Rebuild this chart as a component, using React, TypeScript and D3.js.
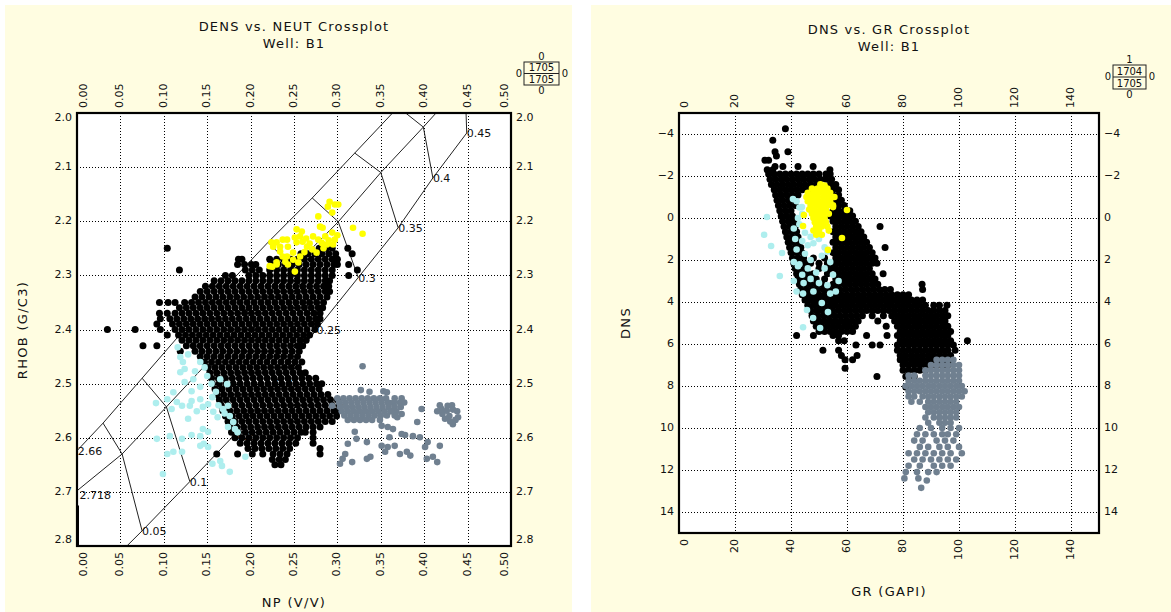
import React from 'react';
import * as d3 from 'd3';

type Pt = [number, number];
type Row = [number, number[]];

// ================= LEFT: DENS vs. NEUT =================
const leftTitle = 'DENS vs. NEUT Crossplot';
const leftSubtitle = 'Well: B1';
const leftXLabel = 'NP (V/V)';
const leftYLabel = 'RHOB (G/C3)';
const leftXTicks = [0, 0.05, 0.1, 0.15, 0.2, 0.25, 0.3, 0.35, 0.4, 0.45, 0.5];
const leftYTicks = [2.0, 2.1, 2.2, 2.3, 2.4, 2.5, 2.6, 2.7, 2.8];
const leftLegend = ['0', '1705', '1705', '0', '0', '0']; // top, cell1, cell2, bottom, left, right

// chart-book overlay (NP, RHOB)
const porosityLabels = ['0.05', '0.1', '0.15', '0.2', '0.25', '0.3', '0.35', '0.4', '0.45'];
const sandStart: Pt = [0, 2.624];
const limeStart: Pt = [0, 2.698];
const doloStart: Pt = [0.043, 2.823];
const sandNodes: Pt[] = [[0.030, 2.573], [0.075, 2.490], [0.121, 2.405], [0.171, 2.322], [0.220, 2.239], [0.271, 2.157], [0.320, 2.074], [0.370, 1.989], [0.420, 1.905]];
const limeNodes: Pt[] = [[0.052, 2.630], [0.103, 2.543], [0.153, 2.457], [0.199, 2.372], [0.249, 2.285], [0.301, 2.201], [0.350, 2.110], [0.399, 2.026], [0.447, 1.941]];
const doloNodes: Pt[] = [[0.075, 2.772], [0.130, 2.681], [0.180, 2.597], [0.228, 2.499], [0.276, 2.400], [0.324, 2.304], [0.370, 2.212], [0.410, 2.120], [0.449, 2.037]];
const matrixLabels: [string, number, number][] = [['2.66', 0.001, 2.626], ['2.718', 0.003, 2.707]];

const leftBlackRows: Row[] = [
  [2.25, [0.104, 0.279, 0.287, 0.294, 0.312]],
  [2.26, [0.258, 0.266, 0.274, 0.282, 0.29, 0.298, 0.317]],
  [2.27, [0.186, 0.19, 0.222, 0.23, 0.238, 0.246, 0.254, 0.262, 0.27, 0.278, 0.286, 0.294, 0.3]],
  [2.28, [0.185, 0.193, 0.201, 0.206, 0.224, 0.232, 0.24, 0.248, 0.256, 0.264, 0.272, 0.28, 0.288, 0.296, 0.3, 0.313]],
  [2.29, [0.118, 0.194, 0.202, 0.21, 0.222, 0.23, 0.238, 0.246, 0.254, 0.262, 0.27, 0.278, 0.286, 0.294, 0.323]],
  [2.30, [0.171, 0.179, 0.198, 0.206, 0.214, 0.222, 0.23, 0.238, 0.246, 0.254, 0.262, 0.27, 0.278, 0.286, 0.294, 0.313]],
  [2.31, [0.158, 0.166, 0.174, 0.182, 0.19, 0.198, 0.206, 0.214, 0.222, 0.23, 0.238, 0.246, 0.254, 0.262, 0.27, 0.278, 0.286, 0.291]],
  [2.32, [0.148, 0.156, 0.164, 0.172, 0.18, 0.188, 0.196, 0.204, 0.212, 0.22, 0.228, 0.236, 0.244, 0.252, 0.26, 0.268, 0.276, 0.284, 0.29]],
  [2.33, [0.142, 0.15, 0.158, 0.166, 0.174, 0.182, 0.19, 0.198, 0.206, 0.214, 0.222, 0.23, 0.238, 0.246, 0.254, 0.262, 0.27, 0.278, 0.286, 0.291]],
  [2.34, [0.136, 0.144, 0.152, 0.16, 0.168, 0.176, 0.184, 0.192, 0.2, 0.208, 0.216, 0.224, 0.232, 0.24, 0.248, 0.256, 0.264, 0.272, 0.28, 0.288]],
  [2.35, [0.095, 0.105, 0.113, 0.124, 0.132, 0.14, 0.148, 0.156, 0.164, 0.172, 0.18, 0.188, 0.196, 0.204, 0.212, 0.22, 0.228, 0.236, 0.244, 0.252, 0.26, 0.268, 0.276, 0.284]],
  [2.36, [0.118, 0.126, 0.134, 0.142, 0.15, 0.158, 0.166, 0.174, 0.182, 0.19, 0.198, 0.206, 0.214, 0.222, 0.23, 0.238, 0.246, 0.254, 0.262, 0.27, 0.278, 0.283]],
  [2.37, [0.095, 0.104, 0.113, 0.121, 0.129, 0.137, 0.145, 0.153, 0.161, 0.169, 0.177, 0.185, 0.193, 0.201, 0.209, 0.217, 0.225, 0.233, 0.241, 0.249, 0.257, 0.265, 0.273, 0.28]],
  [2.38, [0.096, 0.107, 0.115, 0.123, 0.131, 0.139, 0.147, 0.155, 0.163, 0.171, 0.179, 0.187, 0.195, 0.203, 0.211, 0.219, 0.227, 0.235, 0.243, 0.251, 0.259, 0.267, 0.275, 0.28]],
  [2.39, [0.092, 0.11, 0.118, 0.126, 0.134, 0.142, 0.15, 0.158, 0.166, 0.174, 0.182, 0.19, 0.198, 0.206, 0.214, 0.222, 0.23, 0.238, 0.246, 0.254, 0.262, 0.27, 0.277]],
  [2.40, [0.035, 0.067, 0.096, 0.113, 0.121, 0.129, 0.137, 0.145, 0.153, 0.161, 0.169, 0.177, 0.185, 0.193, 0.201, 0.209, 0.217, 0.225, 0.233, 0.241, 0.249, 0.257, 0.265, 0.274]],
  [2.41, [0.104, 0.117, 0.125, 0.133, 0.141, 0.149, 0.157, 0.165, 0.173, 0.181, 0.189, 0.197, 0.205, 0.213, 0.221, 0.229, 0.237, 0.245, 0.253, 0.261, 0.268]],
  [2.42, [0.121, 0.129, 0.137, 0.145, 0.153, 0.161, 0.169, 0.177, 0.185, 0.193, 0.201, 0.209, 0.217, 0.225, 0.233, 0.241, 0.249, 0.257, 0.264]],
  [2.43, [0.076, 0.092, 0.126, 0.134, 0.142, 0.15, 0.158, 0.166, 0.174, 0.182, 0.19, 0.198, 0.206, 0.214, 0.222, 0.23, 0.238, 0.246, 0.254, 0.26]],
  [2.44, [0.119, 0.136, 0.144, 0.152, 0.16, 0.168, 0.176, 0.184, 0.192, 0.2, 0.208, 0.216, 0.224, 0.232, 0.24, 0.248, 0.256]],
  [2.45, [0.142, 0.15, 0.158, 0.166, 0.174, 0.182, 0.19, 0.198, 0.206, 0.214, 0.222, 0.23, 0.238, 0.246, 0.254]],
  [2.46, [0.147, 0.155, 0.163, 0.171, 0.179, 0.187, 0.195, 0.203, 0.211, 0.219, 0.227, 0.235, 0.243, 0.251, 0.259]],
  [2.47, [0.151, 0.159, 0.167, 0.175, 0.183, 0.191, 0.199, 0.207, 0.215, 0.223, 0.231, 0.239, 0.247, 0.255]],
  [2.48, [0.153, 0.161, 0.169, 0.177, 0.185, 0.193, 0.201, 0.209, 0.217, 0.225, 0.233, 0.241, 0.249, 0.257, 0.263]],
  [2.49, [0.155, 0.163, 0.171, 0.179, 0.187, 0.195, 0.203, 0.211, 0.219, 0.227, 0.235, 0.243, 0.251, 0.259, 0.267, 0.275]],
  [2.50, [0.156, 0.164, 0.172, 0.18, 0.188, 0.196, 0.204, 0.212, 0.22, 0.228, 0.236, 0.244, 0.252, 0.26, 0.268, 0.276, 0.282]],
  [2.51, [0.159, 0.167, 0.175, 0.183, 0.191, 0.199, 0.207, 0.215, 0.223, 0.231, 0.239, 0.247, 0.255, 0.263, 0.271, 0.279]],
  [2.52, [0.161, 0.169, 0.177, 0.185, 0.193, 0.201, 0.209, 0.217, 0.225, 0.233, 0.241, 0.249, 0.257, 0.265, 0.273, 0.281, 0.289]],
  [2.53, [0.164, 0.172, 0.18, 0.188, 0.196, 0.204, 0.212, 0.22, 0.228, 0.236, 0.244, 0.252, 0.26, 0.268, 0.276, 0.284, 0.292, 0.3]],
  [2.54, [0.166, 0.174, 0.182, 0.19, 0.198, 0.206, 0.214, 0.222, 0.23, 0.238, 0.246, 0.254, 0.262, 0.27, 0.278, 0.286, 0.294, 0.302]],
  [2.55, [0.168, 0.176, 0.184, 0.192, 0.2, 0.208, 0.216, 0.224, 0.232, 0.24, 0.248, 0.256, 0.264, 0.272, 0.28, 0.288, 0.296, 0.302]],
  [2.56, [0.171, 0.179, 0.187, 0.195, 0.203, 0.211, 0.219, 0.227, 0.235, 0.243, 0.251, 0.259, 0.267, 0.275, 0.283, 0.291, 0.299]],
  [2.57, [0.174, 0.182, 0.19, 0.198, 0.206, 0.214, 0.222, 0.23, 0.238, 0.246, 0.254, 0.262, 0.27, 0.278, 0.286, 0.294]],
  [2.58, [0.176, 0.184, 0.192, 0.2, 0.208, 0.216, 0.224, 0.232, 0.24, 0.248, 0.256, 0.264, 0.272, 0.28]],
  [2.59, [0.178, 0.186, 0.194, 0.202, 0.21, 0.218, 0.226, 0.234, 0.242, 0.25, 0.258, 0.263, 0.272]],
  [2.60, [0.182, 0.19, 0.198, 0.206, 0.214, 0.222, 0.23, 0.238, 0.246, 0.254, 0.272]],
  [2.61, [0.188, 0.196, 0.204, 0.212, 0.22, 0.228, 0.236, 0.244, 0.252, 0.272]],
  [2.62, [0.197, 0.205, 0.213, 0.221, 0.229, 0.237, 0.245, 0.28]],
  [2.63, [0.161, 0.185, 0.202, 0.214, 0.226, 0.234, 0.242, 0.28]],
  [2.64, [0.225, 0.233, 0.24]],
  [2.65, [0.228, 0.235]],
];

const leftYellow: Pt[] = [
  [0.291, 2.164], [0.297, 2.169], [0.289, 2.173], [0.301, 2.169], [0.294, 2.184], [0.278, 2.191],
  [0.28, 2.21], [0.283, 2.212], [0.318, 2.212], [0.329, 2.223], [0.259, 2.219], [0.257, 2.228],
  [0.251, 2.23], [0.242, 2.234], [0.23, 2.239], [0.234, 2.247], [0.243, 2.247], [0.253, 2.239],
  [0.26, 2.238], [0.265, 2.247], [0.272, 2.228], [0.278, 2.234], [0.286, 2.228], [0.294, 2.221],
  [0.297, 2.234], [0.288, 2.243], [0.295, 2.243], [0.271, 2.252], [0.276, 2.258], [0.249, 2.258],
  [0.237, 2.265], [0.257, 2.265], [0.23, 2.276], [0.243, 2.28], [0.255, 2.276], [0.251, 2.293],
  [0.225, 2.284], [0.226, 2.247], [0.237, 2.234], [0.23, 2.28], [0.222, 2.283], [0.242, 2.265],
  [0.253, 2.215], [0.249, 2.271], [0.224, 2.239], [0.234, 2.256], [0.264, 2.232], [0.268, 2.241],
  [0.282, 2.24], [0.29, 2.235], [0.3, 2.226], [0.284, 2.25], [0.262, 2.257], [0.24, 2.275],
];

const leftCyan: Pt[] = [
  [0.119, 2.451], [0.122, 2.46], [0.124, 2.473], [0.119, 2.479], [0.136, 2.477], [0.142, 2.46],
  [0.15, 2.486], [0.134, 2.492], [0.124, 2.497], [0.132, 2.514], [0.142, 2.506], [0.111, 2.516],
  [0.104, 2.529], [0.091, 2.536], [0.115, 2.534], [0.109, 2.547], [0.121, 2.541], [0.13, 2.541],
  [0.132, 2.532], [0.142, 2.529], [0.138, 2.551], [0.145, 2.543], [0.151, 2.538], [0.157, 2.552],
  [0.162, 2.562], [0.168, 2.547], [0.176, 2.56], [0.18, 2.571], [0.182, 2.584], [0.174, 2.58],
  [0.174, 2.541], [0.165, 2.492], [0.173, 2.501], [0.092, 2.602], [0.107, 2.597], [0.121, 2.602],
  [0.132, 2.595], [0.142, 2.597], [0.145, 2.584], [0.151, 2.589], [0.142, 2.615], [0.146, 2.611],
  [0.151, 2.617], [0.104, 2.63], [0.111, 2.626], [0.121, 2.626], [0.099, 2.667], [0.156, 2.648],
  [0.165, 2.643], [0.167, 2.652], [0.176, 2.663], [0.194, 2.635], [0.116, 2.433], [0.128, 2.446],
  [0.147, 2.47], [0.155, 2.5], [0.16, 2.515], [0.156, 2.525], [0.163, 2.54], [0.17, 2.555],
  [0.185, 2.59], [0.128, 2.565],
];

// dense gray band (rows of RHOB with NP values) + scattered gray points
const leftGrayRows: Row[] = [
  [2.527, [0.3, 0.307, 0.314, 0.321, 0.328, 0.335, 0.342, 0.349, 0.356, 0.366, 0.374]],
  [2.535, [0.302, 0.309, 0.316, 0.323, 0.33, 0.337, 0.344, 0.351, 0.358, 0.365, 0.372, 0.377]],
  [2.543, [0.303, 0.31, 0.317, 0.324, 0.331, 0.338, 0.345, 0.352, 0.359, 0.366, 0.373]],
  [2.551, [0.305, 0.312, 0.319, 0.326, 0.333, 0.34, 0.347, 0.354, 0.361, 0.368]],
  [2.559, [0.308, 0.315, 0.322, 0.329, 0.336, 0.343, 0.35, 0.357, 0.366]],
  [2.567, [0.312, 0.319, 0.326, 0.333, 0.34, 0.349]],
];
const leftGray: Pt[] = [
  [0.329, 2.468], [0.327, 2.512], [0.337, 2.515], [0.353, 2.514], [0.357, 2.516], [0.294, 2.541],
  [0.418, 2.54], [0.427, 2.541], [0.432, 2.54], [0.438, 2.551], [0.439, 2.562], [0.433, 2.575],
  [0.429, 2.56], [0.421, 2.556], [0.415, 2.551], [0.397, 2.547], [0.392, 2.571], [0.42, 2.547],
  [0.426, 2.55], [0.433, 2.548], [0.424, 2.565], [0.436, 2.567], [0.43, 2.57],
  [0.32, 2.589], [0.322, 2.602], [0.312, 2.611], [0.309, 2.63], [0.306, 2.639], [0.303, 2.648],
  [0.317, 2.645], [0.334, 2.639], [0.338, 2.635], [0.334, 2.608], [0.351, 2.615], [0.355, 2.626],
  [0.358, 2.617], [0.366, 2.615], [0.372, 2.63], [0.38, 2.626], [0.384, 2.633], [0.403, 2.639],
  [0.41, 2.635], [0.415, 2.645], [0.401, 2.617], [0.418, 2.615], [0.404, 2.608], [0.395, 2.599],
  [0.387, 2.597], [0.378, 2.595], [0.374, 2.593], [0.36, 2.599], [0.364, 2.584], [0.358, 2.58],
  [0.351, 2.578], [0.369, 2.562], [0.374, 2.556], [0.36, 2.536], [0.362, 2.551],
];

// ================= RIGHT: DNS vs. GR =================
const rightTitle = 'DNS vs. GR Crossplot';
const rightSubtitle = 'Well: B1';
const rightXLabel = 'GR (GAPI)';
const rightYLabel = 'DNS';
const rightXTicks = [0, 20, 40, 60, 80, 100, 120, 140];
const rightYTicks = [-4, -2, 0, 2, 4, 6, 8, 10, 12, 14];
const rightLegend = ['1', '1704', '1705', '0', '0', '0'];

const rightBlackRows: Row[] = [
  [-4.25, [38]],
  [-3.7, [33.5]],
  [-3.15, [34.3, 38.9]],
  [-2.95, [34.8]],
  [-2.75, [30.7, 32]],
  [-2.45, [34.3, 37.1, 42.5, 47.9]],
  [-2.3, [31.5, 33.5, 53.9]],
  [-2.1, [32, 34, 36, 38, 40, 42, 44, 46, 48, 50, 52.5, 54]],
  [-1.85, [32.5, 34.5, 36.5, 38.5, 40.5, 42.5, 44.5, 46.5, 48.5, 50.5, 52.5, 54.5]],
  [-1.6, [33, 35, 37, 39, 41, 43, 45, 47, 49, 54, 56]],
  [-1.35, [34, 36, 38, 40, 42, 44, 46, 55, 57]],
  [-1.1, [34.5, 36.5, 38.5, 40.5, 42.5, 55, 57]],
  [-0.85, [35, 37, 39, 41, 56, 58]],
  [-0.6, [35.5, 37.5, 39.5, 41.5, 55, 57, 59]],
  [-0.35, [36, 38, 40, 55, 57, 59, 61]],
  [-0.1, [36.5, 38.5, 40.5, 54, 56, 58, 60, 62]],
  [0.15, [37, 39, 41, 55, 57, 59, 61, 63]],
  [0.4, [37.5, 39.5, 41.5, 56, 58, 60, 62, 64, 71.8]],
  [0.65, [38, 40, 42, 55, 57, 59, 61, 63, 65]],
  [0.9, [38.5, 40.5, 42.5, 56, 58, 60, 62, 64, 66]],
  [1.15, [39, 41, 43, 55, 57, 59, 61, 63, 65, 67]],
  [1.4, [39.5, 41.5, 43.5, 56, 58, 60, 62, 64, 66, 68, 73.6]],
  [1.65, [40, 42, 44, 55, 57, 59, 61, 63, 65, 67, 69]],
  [1.9, [40.5, 42.5, 44.5, 48, 52, 56, 58, 60, 62, 64, 66, 68, 70]],
  [2.15, [41, 43, 45, 47, 50, 53, 55, 57, 59, 61, 63, 65, 67, 69, 70.7]],
  [2.4, [41.5, 43.5, 45.5, 50, 54, 56, 58, 60, 62, 64, 66, 68]],
  [2.65, [42, 44, 46, 48, 53, 57, 59, 61, 63, 65, 67, 69, 72.9]],
  [2.9, [42.5, 44.5, 46.5, 49, 52, 56, 58, 60, 62, 64, 66, 68, 70]],
  [3.15, [43, 45, 47, 49, 51, 55, 57, 59, 61, 63, 65, 67, 69, 71, 86.8]],
  [3.4, [43.5, 45.5, 47.5, 49.5, 51.5, 53.5, 55.5, 57.5, 59.5, 61.5, 63.5, 65.5, 67.5, 69.5, 71.5, 73.5, 75.5, 87]],
  [3.65, [44, 46, 48, 50, 52, 54, 56, 58, 60, 62, 64, 66, 68, 70, 72, 74, 76, 78, 80, 82]],
  [3.9, [45, 47, 49, 51, 53, 55, 57, 59, 61, 63, 65, 67, 69, 71, 73, 75, 77, 79, 81, 83, 85, 87]],
  [4.15, [46, 48, 50, 52, 54, 56, 58, 60, 62, 64, 66, 68, 70, 72, 74, 76, 78, 80, 82, 84, 86, 88, 91, 93, 95.7]],
  [4.4, [47, 49, 51, 53, 55, 57, 59, 61, 63, 65, 67, 69, 71, 73, 75, 77, 79, 81, 83, 85, 87, 89, 91, 93, 95]],
  [4.65, [47.5, 49.5, 51.5, 53.5, 55.5, 57.5, 59.5, 61.5, 63.5, 65.5, 69, 73, 76, 78, 80, 82, 84, 86, 88, 90, 92, 94, 96]],
  [4.9, [48, 50, 52, 54, 56, 58, 60, 62, 64, 71, 77, 79, 81, 83, 85, 87, 89, 91, 93, 95]],
  [5.15, [49, 51, 53, 55, 57, 59, 61, 63, 74, 78, 80, 82, 84, 86, 88, 90, 92, 94, 96]],
  [5.4, [50, 52, 54, 56, 58, 60, 62, 79, 81, 83, 85, 87, 89, 91, 93, 95, 97]],
  [5.6, [42, 48, 55, 57, 67, 74.3, 78, 80, 82, 84, 86, 88, 90, 92, 94, 96]],
  [5.85, [57, 59, 79, 81, 83, 85, 87, 89, 91, 93, 95, 97, 103]],
  [6.05, [63.2, 69, 71.8, 78, 80, 82, 84, 86, 88, 90, 92, 94, 96, 98]],
  [6.3, [51.4, 57, 78, 80, 82, 84, 86, 88, 90, 92, 94, 96, 98.6]],
  [6.55, [58, 63.6, 79, 81, 83, 85, 87, 89, 91, 93, 95, 97]],
  [6.75, [59.3, 62, 79, 81, 83, 85, 87, 89, 91, 93, 95, 97]],
  [7.0, [80, 82, 84, 86, 88, 90, 92, 94, 96]],
  [7.15, [59.3]],
  [7.25, [80, 82, 84, 86, 88]],
  [7.55, [70.7, 81, 84]],
  [8.05, [81]],
];

const rightCyan: Pt[] = [
  [31.4, -0.05], [30.4, 0.8], [32.9, 1.33], [36.8, 1.67], [40.7, -0.9], [43.9, -0.52], [36, 2.76],
  [41, 2.1], [42.5, 2.3], [41, 3.0], [42, 3.5], [44.3, 3.6], [47.9, 4.76], [50.4, 5.24], [44.3, 5.2],
  [45.7, 4.38], [53.2, 4.48], [51, 4.05], [42, -0.8], [43, -0.5], [44, -0.2], [42.5, 0.0],
  [41, 0.5], [43, 0.3], [45, 0.7], [47, 0.9], [49, 0.6], [44, 1.1], [46, 1.3], [48, 1.2], [50, 1.0],
  [52, 1.4], [42, 1.5], [45, 1.7], [51, 1.8], [53, 1.6], [43, 2.2], [46, 2.4], [49, 2.6], [52, 2.4],
  [55, 2.7], [57, 3.0], [47, 2.9], [50, 3.1], [53, 3.2], [44, 2.7], [48, 3.5], [54, 3.6], [56, 3.5],
  [47, 2.0], [54, 2.1], [41.5, 1.0], [44.5, 3.1],
];

const rightYellow: Pt[] = [
  [50.5, -1.6], [52, -1.55], [47.5, -1.4], [49.5, -1.4], [51.5, -1.4], [53, -1.4],
  [46, -1.2], [48, -1.2], [50, -1.2], [52, -1.2], [54, -1.2],
  [45.5, -1.0], [47.5, -1.0], [49.5, -1.0], [51.5, -1.0], [53.5, -1.0], [55.5, -1.0],
  [46, -0.8], [48, -0.8], [50, -0.8], [52, -0.8], [54, -0.8],
  [47, -0.6], [49, -0.6], [51, -0.6], [53, -0.6], [55, -0.6],
  [46.5, -0.4], [48.5, -0.4], [50.5, -0.4], [52.5, -0.4],
  [47.5, -0.2], [49.5, -0.2], [51.5, -0.2], [53.5, -0.2],
  [48, 0.0], [50, 0.0], [52, 0.0], [48.5, 0.2], [50.5, 0.2], [52.5, 0.2],
  [49, 0.4], [51, 0.4], [53, 0.4], [48, 0.6], [50, 0.6], [53.5, 0.6], [49, 0.8], [51, 0.8],
  [44.6, -0.14], [44.3, 0.38], [60, -0.38], [58.2, 0.95], [53.2, 1.52], [55, -0.52],
];

// dense gray core (rows of DNS with GR values) + lower scattered gray points
const rightGrayRows: Row[] = [
  [6.75, [92, 94, 96, 98]],
  [7.0, [90, 92, 94, 96, 98, 100]],
  [7.25, [88, 90, 92, 94, 96, 98, 100]],
  [7.5, [82, 84, 88, 90, 92, 94, 96, 98, 100]],
  [7.75, [82, 84, 86, 88, 90, 92, 94, 96, 98, 100]],
  [8.0, [81, 83, 85, 87, 89, 91, 93, 95, 97, 99, 101]],
  [8.25, [82, 84, 86, 88, 90, 92, 94, 96, 98, 100, 102]],
  [8.5, [82, 84, 87, 89, 91, 93, 95, 97, 99, 101]],
  [8.75, [83, 86, 89, 91, 93, 95, 97, 99]],
  [9.0, [88, 90, 92, 94, 96, 98, 100]],
  [9.25, [89, 91, 93, 95, 97, 99]],
  [9.5, [88, 91, 93, 95, 97, 99]],
  [9.75, [89, 93, 95, 97]],
];
const rightGray: Pt[] = [
  [86, 10.0], [90, 10.0], [94, 10.0], [97, 10.0], [100, 10.0],
  [85, 10.3], [88, 10.3], [91, 10.3], [94, 10.3], [96, 10.3], [99, 10.3],
  [84, 10.6], [87, 10.6], [92, 10.6], [95, 10.6], [98, 10.6],
  [86, 10.9], [89, 10.9], [93, 10.9], [96, 10.9], [100, 10.9],
  [82, 11.2], [85, 11.2], [88, 11.2], [91, 11.2], [94, 11.2], [97, 11.2], [101, 11.2],
  [84, 11.5], [87, 11.5], [90, 11.5], [93, 11.5], [96, 11.5], [99, 11.5],
  [82, 11.8], [86, 11.8], [91, 11.8], [94, 11.8], [97, 11.8],
  [81, 12.1], [85, 12.1], [89, 12.1], [92, 12.1],
  [80.5, 12.4], [85.5, 12.4], [88.5, 12.5], [86.5, 12.85],
];

// ================= rendering =================
const FONT = 'DejaVu Sans';
const BG = '#FFFDE1';
const COL = { black: '#000000', yellow: '#FFFF00', cyan: '#AEEEEE', gray: '#708090' };

const rowsToPts = (rows: Row[]): Pt[] => rows.flatMap(([y, xs]) => xs.map((x) => [x, y] as Pt));

type PlotProps = {
  box: { x0: number; x1: number; y0: number; y1: number };
  xDomain: [number, number];
  yDomain: [number, number];
  xTicks: number[];
  yTicks: number[];
  xFmt: (v: number) => string;
  yFmt: (v: number) => string;
  xClamp: [number, number];
  yClamp: [number, number];
  series: { pts: Pt[]; color: string; r: number }[];
  title: string;
  subtitle: string;
  titleX: number;
  titleY: number;
  xLabel: string;
  xLabelPos: [number, number];
  yLabel: string;
  yLabelPos: [number, number];
  legend: string[];
  legendBox: [number, number, number, number];
  clipId: string;
  overlay?: boolean;
};

function Crossplot(p: PlotProps) {
  const { x0, x1, y0, y1 } = p.box;
  const x = d3.scaleLinear().domain(p.xDomain).range([x0, x1]);
  const y = d3.scaleLinear().domain(p.yDomain).range([y0, y1]);
  const cx = (v: number) => Math.min(Math.max(x(v), x0 + p.xClamp[0]), x1 - p.xClamp[1]);
  const cy = (v: number) => Math.min(Math.max(y(v), y0 + p.yClamp[0]), y1 - p.yClamp[1]);
  const line = d3.line<Pt>().x((d) => x(d[0])).y((d) => y(d[1]));
  const [lx0, ly0, lx1, ly1] = p.legendBox;
  const lmid = (ly0 + ly1) / 2;
  const lcx = (lx0 + lx1) / 2;
  const tick = { fontFamily: FONT, fontSize: 11, fill: '#111' } as const;

  let overlay: React.ReactNode = null;
  if (p.overlay) {
    const lines = [
      [sandStart, ...sandNodes],
      [limeStart, ...limeNodes],
      [doloStart, ...doloNodes],
    ];
    const connectors = porosityLabels.map((_, i) => [sandNodes[i], limeNodes[i], doloNodes[i]] as Pt[]);
    overlay = (
      <g>
        <g clipPath={`url(#${p.clipId})`} fill="none" stroke="#222" strokeWidth={1}>
          {lines.map((l, i) => <path key={'l' + i} d={line(l) || ''} />)}
          {connectors.map((l, i) => <path key={'c' + i} d={line(l) || ''} />)}
          <line x1={x(0) + 1} x2={x(0) + 1} y1={y(2.725)} y2={y(2.8)} strokeWidth={2} stroke="#000" />
        </g>
        {porosityLabels.map((t, i) => (
          <text key={'pl' + i} x={x(doloNodes[i][0])} y={y(doloNodes[i][1]) + 1} dominantBaseline="middle" {...tick}>{t}</text>
        ))}
        {matrixLabels.map(([t, a, b]) => (
          <text key={t} x={x(a)} y={y(b)} dominantBaseline="middle" {...tick}>{t}</text>
        ))}
      </g>
    );
  }

  return (
    <g>
      <rect x={x0} y={y0} width={x1 - x0} height={y1 - y0} fill="#fff" />
      <clipPath id={p.clipId}>
        <rect x={x0} y={y0} width={x1 - x0} height={y1 - y0} />
      </clipPath>
      <g stroke="#000" strokeWidth={1} strokeDasharray="1 2">
        {p.xTicks.filter((v) => x(v) > x0 + 1 && x(v) < x1 - 1).map((v) => (
          <line key={'gx' + v} x1={Math.round(x(v)) + 0.5} x2={Math.round(x(v)) + 0.5} y1={y0} y2={y1} />
        ))}
        {p.yTicks.filter((v) => y(v) > y0 + 1 && y(v) < y1 - 1).map((v) => (
          <line key={'gy' + v} x1={x0} x2={x1} y1={Math.round(y(v)) + 0.5} y2={Math.round(y(v)) + 0.5} />
        ))}
      </g>
      {overlay}
      <g clipPath={`url(#${p.clipId})`}>
        {p.series.map((s, si) => (
          <g key={'s' + si} fill={s.color}>
            {s.pts.map((d, i) => <circle key={i} cx={x(d[0])} cy={y(d[1])} r={s.r} />)}
          </g>
        ))}
      </g>
      <rect x={x0} y={y0} width={x1 - x0} height={y1 - y0} fill="none" stroke="#000" strokeWidth={2.2} />
      {p.xTicks.map((v) => (
        <text key={'tt' + v} transform={`translate(${cx(v)},${y0 - 5}) rotate(-90)`} textAnchor="start" dominantBaseline="middle" {...tick}>{p.xFmt(v)}</text>
      ))}
      {p.xTicks.map((v) => (
        <text key={'tb' + v} transform={`translate(${cx(v)},${y1 + 6}) rotate(-90)`} textAnchor="end" dominantBaseline="middle" {...tick}>{p.xFmt(v)}</text>
      ))}
      {p.yTicks.map((v) => (
        <text key={'tl' + v} x={x0 - 5} y={cy(v)} textAnchor="end" dominantBaseline="middle" {...tick}>{p.yFmt(v)}</text>
      ))}
      {p.yTicks.map((v) => (
        <text key={'tr' + v} x={x1 + 5} y={cy(v)} textAnchor="start" dominantBaseline="middle" {...tick}>{p.yFmt(v)}</text>
      ))}
      <text x={p.titleX} y={p.titleY} textAnchor="middle" dominantBaseline="middle" fontFamily={FONT} fontSize={13} letterSpacing={1.2} fill="#111">{p.title}</text>
      <text x={p.titleX} y={p.titleY + 17} textAnchor="middle" dominantBaseline="middle" fontFamily={FONT} fontSize={13} letterSpacing={1.2} fill="#111">{p.subtitle}</text>
      <text x={p.xLabelPos[0]} y={p.xLabelPos[1]} textAnchor="middle" dominantBaseline="middle" fontFamily={FONT} fontSize={13} letterSpacing={1.3} fill="#111">{p.xLabel}</text>
      <text transform={`translate(${p.yLabelPos[0]},${p.yLabelPos[1]}) rotate(-90)`} textAnchor="middle" dominantBaseline="middle" fontFamily={FONT} fontSize={13} letterSpacing={1.3} fill="#111">{p.yLabel}</text>
      <g fontFamily={FONT} fontSize={10} fill="#111">
        <rect x={lx0} y={ly0} width={lx1 - lx0} height={ly1 - ly0} fill="none" stroke="#222" strokeWidth={1} />
        <line x1={lx0} x2={lx1} y1={lmid} y2={lmid} stroke="#222" strokeWidth={1} />
        <text x={lcx} y={ly0 - 5} textAnchor="middle" dominantBaseline="middle">{p.legend[0]}</text>
        <text x={lcx} y={(ly0 + lmid) / 2 + 0.5} textAnchor="middle" dominantBaseline="middle">{p.legend[1]}</text>
        <text x={lcx} y={(lmid + ly1) / 2 + 0.5} textAnchor="middle" dominantBaseline="middle">{p.legend[2]}</text>
        <text x={lcx} y={ly1 + 6} textAnchor="middle" dominantBaseline="middle">{p.legend[3]}</text>
        <text x={lx0 - 5} y={lmid} textAnchor="middle" dominantBaseline="middle">{p.legend[4]}</text>
        <text x={lx1 + 6} y={lmid} textAnchor="middle" dominantBaseline="middle">{p.legend[5]}</text>
      </g>
    </g>
  );
}

export default function App() {
  const fmt2 = d3.format('.2f');
  const fmt1 = d3.format('.1f');
  const fmtI = (v: number) => (v < 0 ? '\u2212' + Math.abs(v) : String(v));
  return (
    <svg width={1171} height={612} style={{ position: 'absolute', left: 0, top: 0, background: '#fff' }}>
      <rect x={5} y={5} width={567} height={607} fill={BG} />
      <rect x={591} y={5} width={580} height={607} fill={BG} />
      <Crossplot
        box={{ x0: 77, x1: 511, y0: 113, y1: 546 }}
        xDomain={[0, 0.5]}
        yDomain={[2.0, 2.8]}
        xTicks={leftXTicks}
        yTicks={leftYTicks}
        xFmt={fmt2}
        yFmt={fmt1}
        xClamp={[7, 6]}
        yClamp={[5, 6]}
        series={[
          { pts: rowsToPts(leftBlackRows), color: COL.black, r: 3.5 },
          { pts: leftYellow, color: COL.yellow, r: 3.3 },
          { pts: leftCyan, color: COL.cyan, r: 3.3 },
          { pts: [...rowsToPts(leftGrayRows), ...leftGray], color: COL.gray, r: 3.3 },
        ]}
        title={leftTitle}
        subtitle={leftSubtitle}
        titleX={294}
        titleY={27}
        xLabel={leftXLabel}
        xLabelPos={[294, 603]}
        yLabel={leftYLabel}
        yLabelPos={[23, 330]}
        legend={leftLegend}
        legendBox={[524, 62, 559, 85]}
        clipId="clipL"
        overlay
      />
      <Crossplot
        box={{ x0: 679, x1: 1099, y0: 113, y1: 533 }}
        xDomain={[0, 150]}
        yDomain={[-5, 15]}
        xTicks={rightXTicks}
        yTicks={rightYTicks}
        xFmt={(v) => String(v)}
        yFmt={fmtI}
        xClamp={[6, 6]}
        yClamp={[0, 0]}
        series={[
          { pts: rowsToPts(rightBlackRows), color: COL.black, r: 3.5 },
          { pts: rightCyan, color: COL.cyan, r: 3.3 },
          { pts: rightYellow, color: COL.yellow, r: 3.3 },
          { pts: [...rowsToPts(rightGrayRows), ...rightGray], color: COL.gray, r: 3.3 },
        ]}
        title={rightTitle}
        subtitle={rightSubtitle}
        titleX={889}
        titleY={30}
        xLabel={rightXLabel}
        xLabelPos={[889, 592]}
        yLabel={rightYLabel}
        yLabelPos={[626, 323]}
        legend={rightLegend}
        legendBox={[1113, 65, 1146, 89]}
        clipId="clipR"
      />
    </svg>
  );
}
